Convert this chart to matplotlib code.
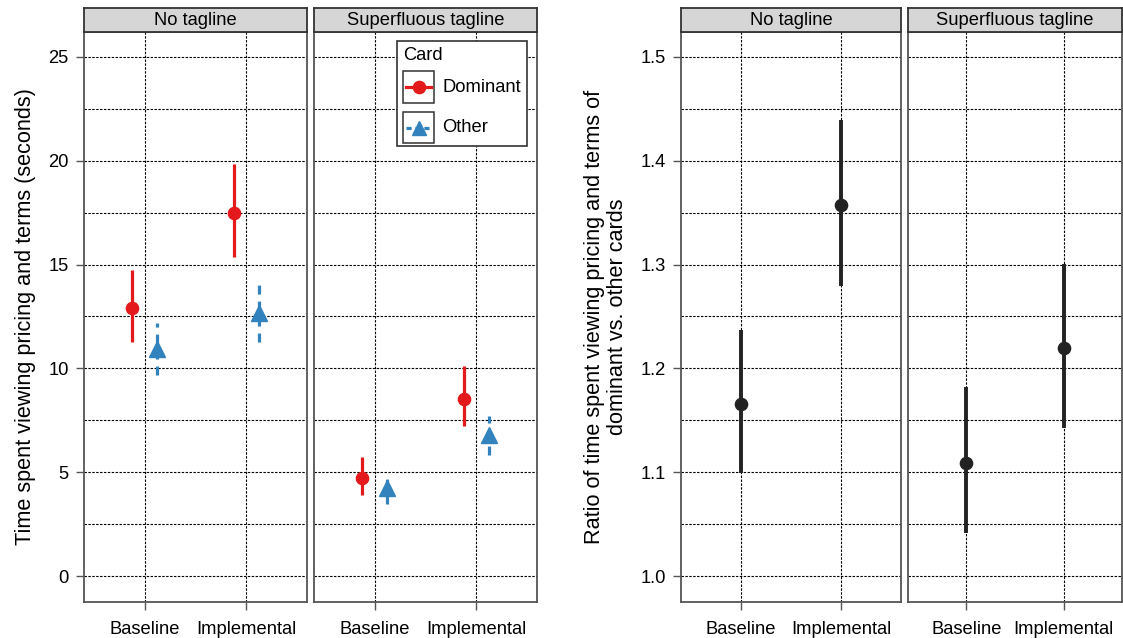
import matplotlib
matplotlib.use("Agg")
import matplotlib.pyplot as plt
from matplotlib.patches import Rectangle
from matplotlib.lines import Line2D
import numpy as np

plt.rcParams['font.family'] = ['Liberation Sans', 'DejaVu Sans']

# ---------------- data ----------------
categories = ["Baseline", "Implemental"]
panels = ["No tagline", "Superfluous tagline"]

# Left chart: time (seconds)
dom_mean = {"No tagline": [12.9, 17.47], "Superfluous tagline": [4.70, 8.54]}
dom_lo   = {"No tagline": [11.26, 15.35], "Superfluous tagline": [3.90, 7.23]}
dom_hi   = {"No tagline": [14.74, 19.83], "Superfluous tagline": [5.72, 10.13]}
oth_mean = {"No tagline": [10.93, 12.65], "Superfluous tagline": [4.22, 6.79]}
oth_lo   = {"No tagline": [9.68, 11.29], "Superfluous tagline": [3.47, 5.83]}
oth_hi   = {"No tagline": [12.2, 14.1], "Superfluous tagline": [4.86, 7.72]}

# Right chart: ratio dominant vs other
ratio_mean = {"No tagline": [1.166, 1.357], "Superfluous tagline": [1.109, 1.220]}
ratio_lo   = {"No tagline": [1.099, 1.279], "Superfluous tagline": [1.041, 1.143]}
ratio_hi   = {"No tagline": [1.237, 1.439], "Superfluous tagline": [1.182, 1.301]}

left_yticks = [0, 5, 10, 15, 20, 25]
left_yminor = [2.5, 7.5, 12.5, 17.5, 22.5]
right_yticks = [1.0, 1.1, 1.2, 1.3, 1.4, 1.5]
right_yminor = [1.05, 1.15, 1.25, 1.35, 1.45]

# ---------------- style ----------------
W, H = 1123, 638
RED = '#e3191c'
BLUE = '#3182bd'
FRAME = '#555555'
FS = 13.2
YLFS = 15.6
GRID_LS = (0, (2.2, 1.3))
DODGE = 0.125

fig = plt.figure(figsize=(W / 100, H / 100), dpi=100)


def px_axes(x0, y0, x1, y1):
    return fig.add_axes([x0 / W, 1 - y1 / H, (x1 - x0) / W, (y1 - y0) / H])


def style_panel(ax, title, yticks, yminor, ylim, show_ylabels, fmt):
    ax.set_xlim(-0.6, 1.6)
    ax.set_ylim(*ylim)
    ax.set_xticks(range(len(categories)))
    ax.set_xticklabels(categories, fontsize=FS)
    ax.set_yticks(yticks)
    ax.set_yticks(yminor, minor=True)
    if show_ylabels:
        ax.set_yticklabels([fmt.format(t) for t in yticks], fontsize=FS)
        ax.tick_params(axis='y', which='major', length=6, width=1, color=FRAME, pad=5, labelsize=FS)
    else:
        ax.tick_params(axis='y', which='major', length=0, labelleft=False)
    ax.tick_params(axis='y', which='minor', length=0)
    ax.tick_params(axis='x', which='major', length=6, width=1, color=FRAME, pad=8, labelsize=FS)
    ax.grid(True, which='both', axis='y', color='black', lw=0.8, linestyle=GRID_LS)
    ax.grid(True, which='major', axis='x', color='black', lw=0.8, linestyle=GRID_LS)
    ax.set_axisbelow(True)
    for s in ax.spines.values():
        s.set_color(FRAME)
        s.set_linewidth(1.3)
    # strip
    bb = ax.get_position()
    sax = fig.add_axes([bb.x0, bb.y1, bb.width, 24 / H])
    sax.set_facecolor('#d6d6d6')
    sax.set_xticks([])
    sax.set_yticks([])
    for s in sax.spines.values():
        s.set_color('#333333')
        s.set_linewidth(1.3)
    sax.text(0.5, 0.47, title, ha='center', va='center', fontsize=FS, transform=sax.transAxes)


x = np.arange(len(categories))

# Left chart
left_boxes = [(84, 32, 307, 602), (314, 32, 537, 602)]
for i, (p, box) in enumerate(zip(panels, left_boxes)):
    ax = px_axes(*box)
    style_panel(ax, p, left_yticks, left_yminor, (-1.25, 26.2), i == 0, "{:d}")
    xd = x - DODGE
    xo = x + DODGE
    ax.vlines(xd, dom_lo[p], dom_hi[p], colors=RED, lw=2.3, zorder=3)
    ax.plot(xd, dom_mean[p], 'o', color=RED, ms=8.8, zorder=4)
    ax.vlines(xo, oth_lo[p], oth_hi[p], colors=BLUE, lw=2.3, linestyles=[(0, (2.8, 2.2))], zorder=3)
    ax.plot(xo, oth_mean[p], '^', color=BLUE, ms=11, zorder=4)
    if i == 0:
        ax.set_ylabel("Time spent viewing pricing and terms (seconds)", fontsize=YLFS, labelpad=9)

# Legend drawn in pixel coordinates
def fx(v):
    return v / W


def fy(v):
    return 1 - v / H

fig.patches.append(Rectangle((fx(397), fy(146)), fx(527) - fx(397), fy(41) - fy(146),
                             transform=fig.transFigure, fill=True, facecolor='white',
                             edgecolor='#333333', lw=1.2, zorder=10))
fig.text(fx(403), fy(56), "Card", fontsize=FS, ha='left', va='center', zorder=11)
for (ky0, ky1, col, mk, ls, label, ms) in [
        (71, 103, RED, 'o', '-', "Dominant", 8.8),
        (112, 143, BLUE, '^', (0, (1.6, 1.2)), "Other", 10)]:
    fig.patches.append(Rectangle((fx(403), fy(ky1)), fx(434) - fx(403), fy(ky0) - fy(ky1),
                                 transform=fig.transFigure, fill=True, facecolor='white',
                                 edgecolor='#333333', lw=1.1, zorder=11))
    yc = fy((ky0 + ky1) / 2)
    fig.lines.append(Line2D([fx(406), fx(431)], [yc, yc], transform=fig.transFigure,
                            color=col, lw=2.3, linestyle=ls, zorder=12))
    fig.lines.append(Line2D([fx(418.5)], [yc], transform=fig.transFigure, marker=mk,
                            color=col, ms=ms, linestyle='none', zorder=13))
    fig.text(fx(442), yc, label, fontsize=FS, ha='left', va='center', zorder=12)

# Right chart
right_boxes = [(681, 32, 901, 602), (908, 32, 1122, 602)]
for i, (p, box) in enumerate(zip(panels, right_boxes)):
    ax = px_axes(*box)
    style_panel(ax, p, right_yticks, right_yminor, (0.975, 1.524), i == 0, "{:.1f}")
    ax.vlines(x, ratio_lo[p], ratio_hi[p], colors='#222222', lw=2.8, zorder=3)
    ax.plot(x, ratio_mean[p], 'o', color='#222222', ms=8.8, zorder=4)
    if i == 0:
        ax.set_ylabel("Ratio of time spent viewing pricing and terms of\ndominant vs. other cards",
                      fontsize=YLFS, labelpad=9, linespacing=1.1)

fig.savefig("out.png", dpi=100)
